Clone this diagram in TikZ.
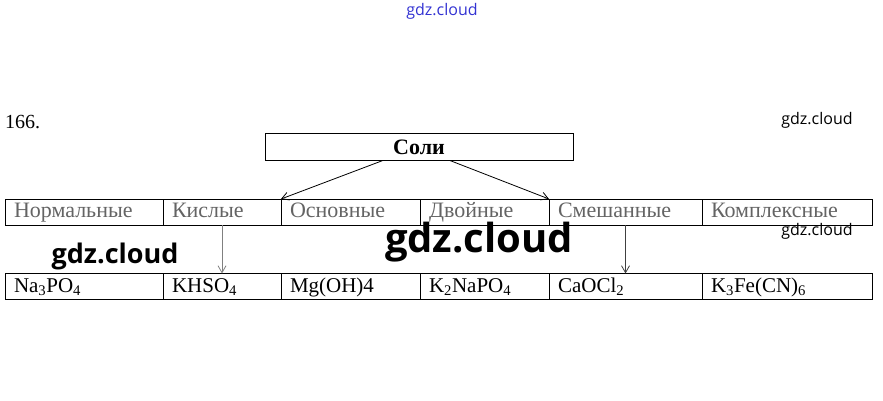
\documentclass[tikz,border=0pt]{standalone}
\usepackage{fontspec}
\setmainfont{Liberation Serif}
\newfontfamily\wmfont{Open Sans}
\usetikzlibrary{positioning,calc,arrows.meta}
\definecolor{wmblue}{RGB}{50,50,210}
\definecolor{faded}{RGB}{100,100,100}

\begin{document}
\begin{tikzpicture}[
  x=1pt, y=-1pt,
  node distance=0pt and 0pt,
  every node/.style={font=\fontsize{21}{24}\selectfont},
  cell/.style={draw, line width=1pt, outer sep=0pt, minimum height=26pt, inner xsep=9pt, inner ysep=0pt,
    text height=15pt, text depth=4pt, text width=#1, align=left},
  headcell/.style={cell=#1, text=faded, font=\fontsize{22}{24}\selectfont},
  arr/.style={-{Straight Barb[length=7pt,width=8pt]}, line width=0.8pt},
  wm/.style={font=\wmfont\fontsize{#1}{#1}\selectfont, inner sep=0pt}
]
\useasboundingbox (0,0) rectangle (883,401);

\node[anchor=west, inner sep=0pt, font=\fontsize{20}{24}\selectfont] (num) at (5,122) {166.};
\node[draw, line width=1pt, minimum width=308pt, minimum height=26pt, inner sep=0pt, font=\fontsize{22}{24}\selectfont\bfseries] (soli) at (419,147) {Соли};

% classes
\node[headcell=140pt, anchor=west] (norm) at (5,212) {Нормальные};
\node[headcell=100pt, right=of norm] (kisl) {Кислые};
\node[headcell=121pt, right=of kisl] (osn) {Основные};
\node[headcell=111pt, right=of osn] (dvoin) {Двойные};
\node[headcell=135pt, right=of dvoin] (smesh) {Смешанные};
\node[headcell=152pt, right=of smesh] (kompl) {Комплексные};

% examples
\node[cell=140pt, anchor=west] (normf) at (5,286.5) {Na\textsubscript{3}PO\textsubscript{4}};
\node[cell=100pt, right=of normf] (kislf) {KHSO\textsubscript{4}};
\node[cell=121pt, right=of kislf] (osnf) {Mg(OH)4};
\node[cell=111pt, right=of osnf] (dvoinf) {K\textsubscript{2}NaPO\textsubscript{4}};
\node[cell=135pt, right=of dvoinf] (smeshf) {CaOCl\textsubscript{2}};
\node[cell=152pt, right=of smeshf] (komplf) {K\textsubscript{3}Fe(CN)\textsubscript{6}};

\draw[arr] ($(soli.south west)!0.383!(soli.south east)$) -- (kisl.north east);
\draw[arr] ($(soli.south west)!0.6!(soli.south east)$) -- (smesh.north west);
\draw[arr, gray] (kisl.south) -- (kislf.north);
\draw[arr, darkgray] (smesh.south) -- (smeshf.north);

% watermarks
\node[wm=16, text=wmblue] (wmtop) at (442,11) {gdz.cloud};
\node[wm=16] (wmr1) at (817,120) {gdz.cloud};
\node[wm=16] (wmr2) at (817,231) {gdz.cloud};
\node[wm=40, font=\wmfont\fontsize{40}{40}\selectfont\bfseries] (wmbig) at (479,242) {gdz.cloud};
\node[wm=27, font=\wmfont\fontsize{27}{27}\selectfont\bfseries] (wmleft) at (115,256) {gdz.cloud};
\end{tikzpicture}
\end{document}
